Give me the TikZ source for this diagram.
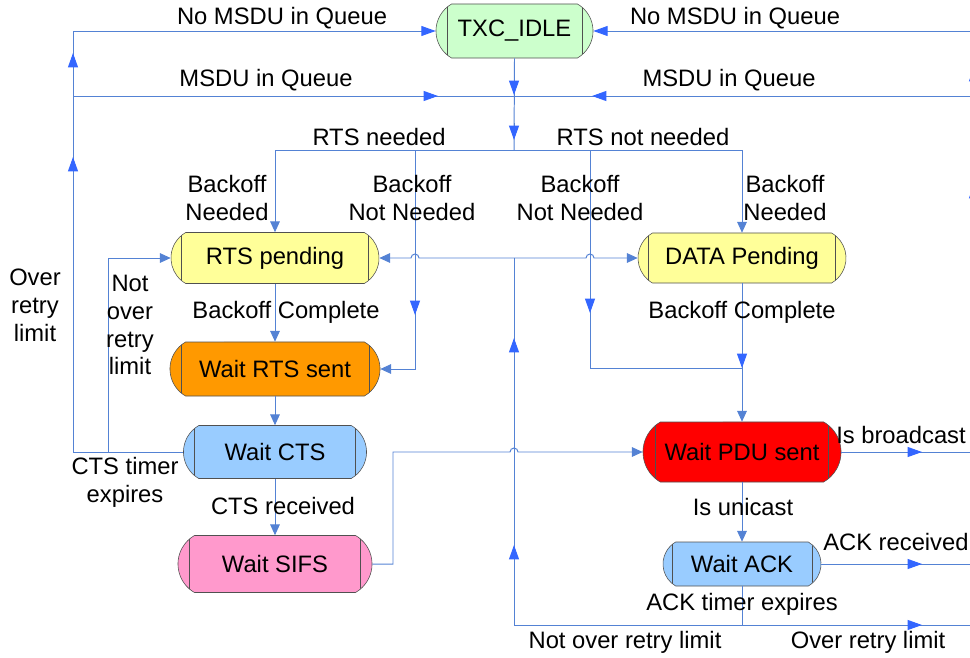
\documentclass[tikz,border=0pt]{standalone}
\usepackage{fontspec}
\setmainfont{Liberation Sans}
\usetikzlibrary{arrows.meta,shapes.misc,calc}

\definecolor{linkblue}{RGB}{84,130,212}
\definecolor{tipblue}{RGB}{51,102,255}
\definecolor{rimgray}{RGB}{80,80,80}
\definecolor{idlegreen}{RGB}{204,255,204}
\definecolor{pendyellow}{RGB}{255,255,153}
\definecolor{rtsorange}{RGB}{255,153,0}
\definecolor{waitblue}{RGB}{153,204,255}
\definecolor{sifspink}{RGB}{255,153,204}
\definecolor{pdured}{RGB}{255,0,0}

\newcommand{\diagfont}{\fontsize{16.9}{19.8}\selectfont}

\tikzset{
  state/.style={rounded rectangle, rounded rectangle arc length=120,
    draw=rimgray, fill=#1, inner sep=0pt, font=\diagfont,
    path picture={
      \draw[rimgray] let \p1=(path picture bounding box.north west),
        \p2=(path picture bounding box.south east),
        \n1={0.2887*(\y1-\y2)} in
        (\x1+\n1,\y1) -- (\x1+\n1,\y2)
        (\x2-\n1,\y1) -- (\x2-\n1,\y2);
    }},
  lbl/.style={font=\diagfont, align=center, inner sep=0pt},
  link/.style={draw=linkblue, line width=0.7pt},
  tonode/.style={link, -{Triangle[length=0.27cm,width=0.24cm,color=linkblue]}},
  bigtip/.style={link, -{Triangle[length=0.36cm,width=0.25cm,color=tipblue]}},
}

\begin{document}
\begin{tikzpicture}[x=0.025cm,y=-0.025cm]
  \useasboundingbox (0,0) rectangle (970,657);
  \clip (0,0) rectangle (970,657);

  % states
  \node[state=idlegreen, minimum width=3.925cm, minimum height=1.35cm] (idle) at (514.5,31) {TXC\_IDLE};
  \node[state=pendyellow, minimum width=5.2cm, minimum height=1.275cm] (rtspend) at (275,258) {RTS pending};
  \node[state=rtsorange, minimum width=5.25cm, minimum height=1.35cm] (waitrts) at (275,369) {Wait RTS sent};
  \node[state=waitblue, minimum width=4.575cm, minimum height=1.325cm] (waitcts) at (275,452) {Wait CTS};
  \node[state=sifspink, minimum width=4.85cm, minimum height=1.425cm] (waitsifs) at (275,564) {Wait SIFS};
  \node[state=pendyellow, minimum width=5.2cm, minimum height=1.25cm] (datapend) at (742,258) {DATA Pending};
  \node[state=pdured, minimum width=4.95cm, minimum height=1.5cm] (waitpdu) at (742,452) {Wait PDU sent};
  \node[state=waitblue, minimum width=3.95cm, minimum height=1.1cm] (waitack) at (742,564) {Wait ACK};

  % junctions
  \coordinate (ctsloop) at (108,452);
  \coordinate (queue) at (73,96);
  \coordinate (merge) at (514,96);
  \coordinate (ridle) at (974,31);
  \coordinate (rqueue) at (974,96);
  \coordinate (split) at (514,150);
  \coordinate (rtsbr) at (275,150);
  \coordinate (rtsskip) at (415,150);
  \coordinate (dataskip) at (590,150);
  \coordinate (databr) at (742,150);
  \coordinate (skipjoin) at (742,368);
  \coordinate (fork) at (514,258);
  \coordinate (retry) at (514,625);
  \coordinate (ackdrop) at (742,625);
  \coordinate (retryout) at (974,625);
  \coordinate (bcastout) at (974,452);
  \coordinate (ackout) at (974,564);

  % back to idle
  \draw[bigtip] (waitcts.west) -| (73,31) -- (idle.west);
  \draw[bigtip] (73,70) -- (73,53);
  \draw[bigtip] (73,175) -- (73,157);
  \draw[link] (queue) -- (merge);
  \draw[bigtip] (420,96) -- (438,96);
  \draw[bigtip] (ridle) -- (idle.east);
  \draw[link] (rqueue) -- (merge);
  \draw[bigtip] (610,96) -- (592,96);
  \draw[bigtip] (974,85) -- (974,67);
  \draw[bigtip] (974,202) -- (974,184);

  % RTS / DATA choice
  \draw[link] (idle.south) -- (split);
  \draw[bigtip] (514,78) -- (514,95);
  \draw[bigtip] (514,123) -- (514,140);
  \draw[link] (rtsbr) -- (databr);
  \draw[tonode] (rtsbr) -- (rtspend.north);
  \draw[tonode] (rtsskip) |- (waitrts.east);
  \draw[bigtip] (415,298) -- (415,315);
  \draw[link] (dataskip) |- (skipjoin);
  \draw[bigtip] (590,296) -- (590,313);
  \draw[tonode] (databr) -- (datapend.north);
  \draw[tonode] (datapend.south) -- (waitpdu.north);
  \draw[bigtip] (742,351) -- (742,368);

  % RTS side
  \draw[tonode] (rtspend.south) -- (waitrts.north);
  \draw[tonode] (waitrts.south) -- (waitcts.north);
  \draw[tonode] (waitcts.south) -- (waitsifs.north);
  \draw[tonode] (ctsloop) |- (rtspend.west);
  \draw[tonode] (waitsifs.east) -- (393,564) |- (510,452)
    arc[start angle=180, end angle=0, radius=0.1cm] -- (waitpdu.west);

  % retry
  \draw[link] (waitack.south) -- (ackdrop);
  \draw[link] (retry) -- (retryout);
  \draw[bigtip] (904,625) -- (922,625);
  \draw[link] (retry) -- (fork);
  \draw[bigtip] (514,562) -- (514,545);
  \draw[bigtip] (514,355) -- (514,338);
  \draw[tonode] (fork) -- (419,258) arc[start angle=0, end angle=180, radius=0.1cm] -- (rtspend.east);
  \draw[tonode] (fork) -- (586,258) arc[start angle=180, end angle=0, radius=0.1cm] -- (datapend.west);

  % done
  \draw[tonode] (waitpdu.south) -- (waitack.north);
  \draw[link] (waitpdu.east) -- (bcastout);
  \draw[bigtip] (904,452) -- (922,452);
  \draw[link] (waitack.east) -- (ackout);
  \draw[bigtip] (904,564) -- (922,564);

  % labels
  \node[lbl] (tnomsdul) at (282,18) {No MSDU in Queue};
  \node[lbl] (tnomsdur) at (735,18) {No MSDU in Queue};
  \node[lbl] (tmsdul) at (266,80) {MSDU in Queue};
  \node[lbl] (tmsdur) at (729,80) {MSDU in Queue};
  \node[lbl] (trts) at (379,137) {RTS needed};
  \node[lbl] (tnorts) at (643,137) {RTS not needed};
  \node[lbl] (tboffa) at (227,198) {Backoff\\Needed};
  \node[lbl] (tnoboffa) at (412,198) {Backoff\\Not Needed};
  \node[lbl] (tnoboffb) at (580,198) {Backoff\\Not Needed};
  \node[lbl] (tboffb) at (785,198) {Backoff\\Needed};
  \node[lbl] (tdonea) at (286,312) {Backoff Complete};
  \node[lbl] (tdoneb) at (742,312) {Backoff Complete};
  \node[lbl] (tover) at (35,305) {Over\\retry\\limit};
  \node[lbl] (tnotover) at (130,325) {Not\\over\\retry\\limit};
  \node[lbl] (tctstimer) at (125,482) {CTS timer\\expires};
  \node[lbl] (tctsrx) at (283,506) {CTS received};
  \node[lbl] (tunicast) at (743,507) {Is unicast};
  \node[lbl, anchor=west] (tbcast) at (836,435) {Is broadcast};
  \node[lbl, anchor=west] (tackrx) at (823,542) {ACK received};
  \node[lbl] (tacktimer) at (742,604) {ACK timer expires};
  \node[lbl] (tnotoverb) at (625,642) {Not over retry limit};
  \node[lbl] (toverb) at (868,642) {Over retry limit};
\end{tikzpicture}
\end{document}
